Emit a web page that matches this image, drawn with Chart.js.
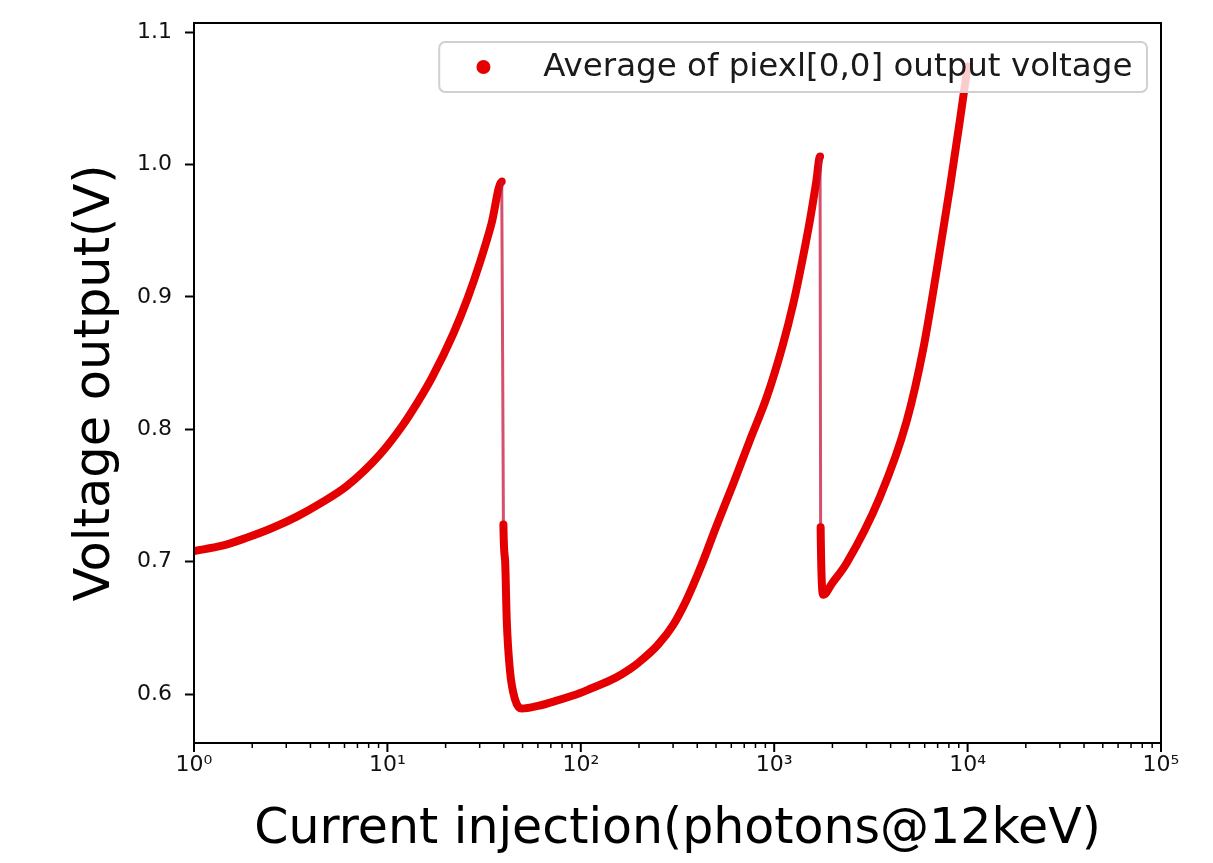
<!DOCTYPE html>
<html>
<head>
<meta charset="utf-8">
<script src="https://cdn.jsdelivr.net/npm/chart.js@4.4.1/dist/chart.umd.min.js"></script>
<style>
  html, body { margin: 0; padding: 0; background: #fff; }
</style>
</head>
<body>
<canvas id="voltChart" width="1213" height="863"></canvas>
<script>
// values: injected photons (log axis) and averaged output voltage
const injection = [
  1, 1.4, 1.87, 2.5, 3.4, 4.5, 6.16, 9.16, 12, 14, 17, 21.9, 26, 30.1, 34.5, 39.0,
  39.8, 40.6, 41.4, 43.0, 45.7, 49.5,
  60, 75, 100, 112, 150, 180, 200, 250, 300, 352, 420, 500, 615, 750, 914, 1100, 1256, 1400, 1531, 1650, 1726,
  1738, 1795,
  2000, 2371, 3524, 4840, 5903, 6921, 8110, 9140, 10000
];
const voltage = [
  0.708, 0.712, 0.718, 0.725, 0.734, 0.744, 0.757, 0.781, 0.803, 0.818, 0.839, 0.872, 0.899, 0.926, 0.955, 0.987,
  0.728, 0.701, 0.656, 0.618, 0.596, 0.589,
  0.591, 0.595, 0.601, 0.604, 0.612, 0.619, 0.624, 0.637, 0.652, 0.671, 0.697, 0.726, 0.759, 0.792, 0.824, 0.862, 0.895, 0.928, 0.958, 0.987, 1.006,
  0.726, 0.675,
  0.684, 0.699, 0.749, 0.806, 0.861, 0.920, 0.983, 1.034, 1.074
];

const xTicks = [1, 10, 100, 1000, 10000, 100000];
const xTickLabels = ['10⁰', '10¹', '10²', '10³', '10⁴', '10⁵'];
const yTicks = [0.6, 0.7, 0.8, 0.9, 1.0, 1.1];
const yTickLabels = ['0.6', '0.7', '0.8', '0.9', '1.0', '1.1'];
const seriesLabel = 'Average of piexl[0,0] output voltage';

const FONT = 'DejaVu Sans';
const RED = '#e40000';

// minor ticks 2..9 in every decade
const xMinor = [];
xTicks.slice(0, -1).forEach(d => { for (let k = 2; k < 10; k++) xMinor.push(d * k); });

// draw the box, the log ticks on x and the legend like matplotlib does
const axesDeco = {
  id: 'axesDeco',
  afterDraw(chart) {
    const ctx = chart.ctx;
    const area = chart.chartArea;
    const xs = chart.scales.x;
    ctx.save();
    ctx.strokeStyle = '#000';
    ctx.lineWidth = 2;
    ctx.strokeRect(area.left, area.top, area.right - area.left, area.bottom - area.top);

    xTicks.forEach(v => {
      const px = xs.getPixelForValue(v);
      ctx.beginPath(); ctx.moveTo(px, area.bottom); ctx.lineTo(px, area.bottom + 9); ctx.stroke();
    });
    ctx.lineWidth = 1.5;
    xMinor.forEach(v => {
      const px = xs.getPixelForValue(v);
      ctx.beginPath(); ctx.moveTo(px, area.bottom); ctx.lineTo(px, area.bottom + 5); ctx.stroke();
    });

    // legend
    const fs = 32.5;
    ctx.font = fs + 'px "' + FONT + '"';
    const tw = ctx.measureText(seriesLabel).width;
    const w = 3.2 * fs + tw + 0.45 * fs;
    const h = 50;
    const right = area.right - 14;
    const top = area.top + 19;
    const left = right - w;
    ctx.beginPath();
    ctx.roundRect(left, top, w, h, 6);
    ctx.fillStyle = 'rgba(255,255,255,0.8)';
    ctx.fill();
    ctx.strokeStyle = '#d0d0d0';
    ctx.lineWidth = 2;
    ctx.stroke();
    ctx.beginPath();
    ctx.arc(left + 1.36 * fs, top + h / 2, 7, 0, Math.PI * 2);
    ctx.fillStyle = RED;
    ctx.fill();
    ctx.fillStyle = '#1a1a1a';
    ctx.textBaseline = 'middle';
    ctx.fillText(seriesLabel, left + 3.2 * fs, top + h / 2 + 1);
    ctx.restore();
  }
};

const ctx = document.getElementById('voltChart').getContext('2d');
const voltChart = new Chart(ctx, {
  type: 'scatter',
  data: {
    datasets: [{
      label: seriesLabel,
      data: injection.map((x, i) => ({ x: x, y: voltage[i] })),
      showLine: true,
      borderColor: RED,
      backgroundColor: RED,
      borderWidth: 8,
      borderCapStyle: 'round',
      borderJoinStyle: 'round',
      pointRadius: 0,
      cubicInterpolationMode: 'monotone',
      segment: {
        // the fast reset edges only have a few sparse points
        borderWidth: c => (c.p0.parsed.y - c.p1.parsed.y > 0.1 ? 3 : 8),
        borderColor: c => (c.p0.parsed.y - c.p1.parsed.y > 0.1 ? 'rgba(200,20,60,0.75)' : RED)
      }
    }]
  },
  options: {
    responsive: false,
    animation: false,
    layout: { padding: { top: 23, right: 52, left: 0, bottom: 0 } },
    plugins: {
      legend: { display: false },
      tooltip: { enabled: false }
    },
    scales: {
      x: {
        type: 'logarithmic',
        min: 1,
        max: 100000,
        afterBuildTicks: s => { s.ticks = xTicks.map(v => ({ value: v })); },
        afterFit: s => { s.height = 120; s.paddingLeft = 0; s.paddingRight = 0; },
        grid: { display: false },
        border: { display: false },
        ticks: {
          autoSkip: false,
          maxRotation: 0,
          padding: 1,
          color: '#111',
          font: { family: FONT, size: 22 },
          callback: v => { const i = xTicks.indexOf(v); return i >= 0 ? xTickLabels[i] : ''; }
        },
        title: {
          display: true,
          text: 'Current injection(photons@12keV)',
          color: '#000',
          font: { family: FONT, size: 49 },
          padding: { top: 0, bottom: 3 }
        }
      },
      y: {
        min: 0.563,
        max: 1.1068,
        afterBuildTicks: s => { s.ticks = yTicks.map(v => ({ value: v })); },
        afterFit: s => { s.width = 194; s.paddingTop = 0; s.paddingBottom = 0; },
        grid: { drawOnChartArea: false, drawTicks: true, tickLength: 9, tickWidth: 2, tickColor: '#000' },
        border: { display: false },
        ticks: {
          padding: 13,
          color: '#111',
          font: { family: FONT, size: 22 },
          callback: v => { const i = yTicks.indexOf(v); return i >= 0 ? yTickLabels[i] : ''; }
        },
        title: {
          display: true,
          text: 'Voltage output(V)',
          color: '#000',
          font: { family: FONT, size: 49.5 },
          padding: { top: 66, bottom: 0 }
        }
      }
    }
  },
  plugins: [axesDeco]
});
</script>
</body>
</html>
